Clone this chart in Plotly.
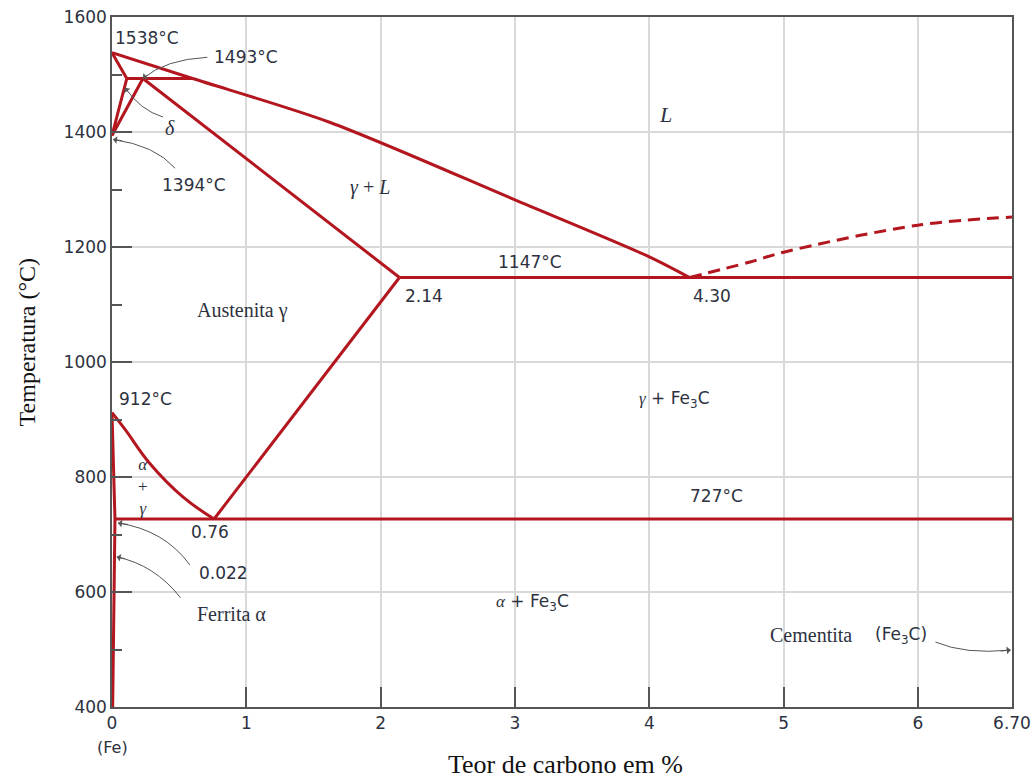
import plotly.graph_objects as go

# ---- Phase boundaries of the Fe–Fe3C system (wt% C, °C) ----
liquidus_x = [0, 0.6, 1.62, 3.0, 4.0, 4.30]
liquidus_t = [1538, 1493, 1417, 1282, 1183, 1147]

delta_solidus_x = [0, 0.11]
delta_solidus_t = [1538, 1493]

peritectic_x = [0.11, 0.6]
peritectic_t = [1493, 1493]

delta_gamma_x = [0.11, 0, 0.23]
delta_gamma_t = [1493, 1394, 1493]

gamma_solidus_x = [0.23, 2.14]
gamma_solidus_t = [1493, 1147]

eutectic_x = [2.14, 6.70]
eutectic_t = [1147, 1147]

acm_x = [0.76, 2.14]
acm_t = [727, 1147]

a3_x = [0, 0.1, 0.28, 0.53, 0.76]
a3_t = [912, 882, 824, 765, 727]

ferrite_x = [0, 0.022, 0.005]
ferrite_t = [912, 727, 400]

eutectoid_x = [0.022, 6.70]
eutectoid_t = [727, 727]

cementite_liq_x = [4.30, 4.75, 5.0, 6.0, 6.70]
cementite_liq_t = [1147, 1174, 1191, 1238, 1252]

x_ticks = [0, 1, 2, 3, 4, 5, 6, 6.70]
x_tick_text = ["0", "1", "2", "3", "4", "5", "6", "6.70"]
y_ticks = [400, 600, 800, 1000, 1200, 1400, 1600]

RED = "#b3161e"
INK = "#2d3140"
SANS = "DejaVu Sans"
SERIF = "Liberation Serif"

fig = go.Figure()

straight = [
    (delta_solidus_x, delta_solidus_t),
    (peritectic_x, peritectic_t),
    (delta_gamma_x, delta_gamma_t),
    (gamma_solidus_x, gamma_solidus_t),
    (eutectic_x, eutectic_t),
    (acm_x, acm_t),
    (ferrite_x, ferrite_t),
    (eutectoid_x, eutectoid_t),
]
for xs, ts in straight:
    fig.add_trace(go.Scatter(x=xs, y=ts, mode="lines",
                             line=dict(color=RED, width=3),
                             hoverinfo="skip", showlegend=False))

# curved boundaries
fig.add_trace(go.Scatter(x=liquidus_x, y=liquidus_t, mode="lines",
                         line=dict(color=RED, width=3, shape="spline", smoothing=0.8),
                         hoverinfo="skip", showlegend=False))
fig.add_trace(go.Scatter(x=a3_x, y=a3_t, mode="lines",
                         line=dict(color=RED, width=3, shape="spline", smoothing=1.2),
                         hoverinfo="skip", showlegend=False))

fig.add_trace(go.Scatter(x=cementite_liq_x, y=cementite_liq_t, mode="lines",
                         line=dict(color=RED, width=3, dash="12px,7px", shape="spline"),
                         hoverinfo="skip", showlegend=False))

annotations = []


def label(x, y, text, size=17, font=SANS, anchor="center", italic=False, color=INK):
    if italic:
        text = f"<i>{text}</i>"
    annotations.append(dict(x=x, y=y, xref="x", yref="y", text=text, showarrow=False,
                            xanchor=anchor, yanchor="middle",
                            font=dict(family=font, size=size, color=color)))


def sym(s):
    return f"<span style='font-family:{SERIF}'><i>{s}</i></span>"


# temperature / composition labels
label(0.01, 1563, "1538°C", anchor="left")
label(0.745, 1530, "1493°C", anchor="left")
label(0.36, 1308, "1394°C", anchor="left")
label(3.11, 1174, "1147°C")
label(2.17, 1115, "2.14", anchor="left")
label(4.47, 1115, "4.30")
label(0.04, 936, "912°C", anchor="left")
label(4.5, 767, "727°C")
label(0.73, 704, "0.76")
label(0.83, 633, "0.022")

# phase fields
label(0.43, 1407, "δ", size=20, font=SERIF, italic=True)
label(4.12, 1430, "L", size=22, font=SERIF, italic=True)
label(1.92, 1304, sym("γ") + " + " + sym("L"), size=20, font=SERIF)
label(0.975, 1090, "Austenita γ", size=20, font=SERIF)
label(4.19, 934, sym("γ") + " + Fe<sub>3</sub>C", size=17)
label(0.23, 783, "<i>α</i><br>+<br><i>γ</i>", size=17, font=SERIF)
label(0.89, 562, "Ferrita α", size=20, font=SERIF)
label(3.13, 581, sym("α") + " + Fe<sub>3</sub>C", size=17)
label(5.2, 525, "Cementita", size=20, font=SERIF)
label(5.87, 525, "(Fe<sub>3</sub>C)", size=17)

# curved pointer arrows: (start, control, end)
pointers = [
    ((0.71, 1530), (0.395, 1526), (0.23, 1493)),
    ((0.38, 1426), (0.21, 1438), (0.097, 1477)),
    ((0.47, 1337), (0.32, 1377), (0.008, 1387)),
    ((0.58, 647), (0.39, 708), (0.045, 720)),
    ((0.51, 590), (0.32, 647), (0.035, 661)),
    ((6.13, 513), (6.35, 491), (6.69, 499)),
]
shapes = []
for (x0, y0), (cx, cy), (x1, y1) in pointers:
    shapes.append(dict(type="path", xref="x", yref="y",
                       path=f"M {x0},{y0} Q {cx},{cy} {x1},{y1}",
                       line=dict(color="#555555", width=1)))
    annotations.append(dict(x=x1, y=y1, ax=x1 + (cx - x1) * 0.25, ay=y1 + (cy - y1) * 0.25,
                            xref="x", yref="y", axref="x", ayref="y", text="",
                            showarrow=True, arrowhead=1, arrowsize=1.3, arrowwidth=1,
                            arrowcolor="#555555"))

# axis titles and the (Fe) marker
annotations.append(dict(x=0.504, y=-0.084, xref="paper", yref="paper",
                        text="Teor de carbono em %", showarrow=False,
                        xanchor="center", yanchor="middle",
                        font=dict(family=SERIF, size=26, color="#111111")))
annotations.append(dict(x=-0.094, y=0.529, xref="paper", yref="paper",
                        text="Temperatura (°C)", showarrow=False, textangle=-90,
                        xanchor="center", yanchor="middle",
                        font=dict(family=SERIF, size=24, color="#111111")))
annotations.append(dict(x=0.001, y=-0.059, xref="paper", yref="paper",
                        text="(Fe)", showarrow=False, xanchor="center", yanchor="middle",
                        font=dict(family=SANS, size=16, color=INK)))

fig.update_layout(
    width=1035, height=781,
    margin=dict(l=112, r=23, t=17, b=74, autoexpand=False),
    paper_bgcolor="white", plot_bgcolor="white",
    annotations=annotations, shapes=shapes,
    showlegend=False,
)
fig.update_xaxes(
    range=[0, 6.70], tickvals=x_ticks, ticktext=x_tick_text, automargin=False,
    showgrid=True, gridcolor="#d9d9d9", gridwidth=1.5,
    showline=True, mirror=True, linecolor="#555555", linewidth=1.5,
    ticks="inside", ticklen=20, tickcolor="#555555", tickwidth=1.5,
    tickfont=dict(family=SANS, size=17, color=INK), zeroline=False,
)
fig.update_yaxes(
    range=[400, 1600], tickvals=y_ticks, automargin=False,
    showgrid=True, gridcolor="#d9d9d9", gridwidth=1.5,
    showline=True, mirror=True, linecolor="#555555", linewidth=1.5,
    ticks="inside", ticklen=20, tickcolor="#555555", tickwidth=1.5,
    minor=dict(dtick=100, ticks="inside", ticklen=10, tickcolor="#555555", showgrid=False),
    tickfont=dict(family=SANS, size=17, color=INK), zeroline=False,
)

fig.write_html("out.html")
